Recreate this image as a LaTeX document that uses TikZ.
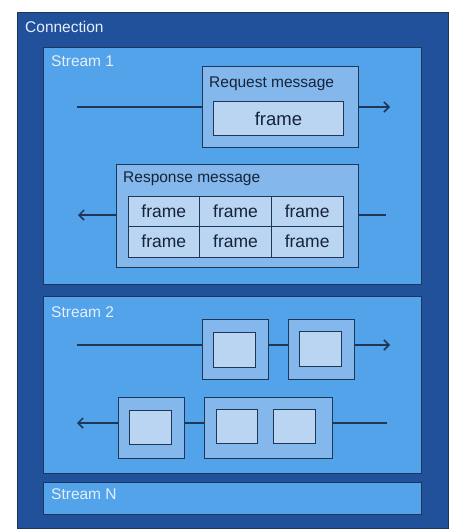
\documentclass[tikz,border=0pt]{standalone}
\usepackage{fontspec}
\setmainfont{Liberation Sans}
\usetikzlibrary{arrows.meta}

\definecolor{connblue}{HTML}{22519B}
\definecolor{streamblue}{HTML}{52A3EA}
\definecolor{msgblue}{HTML}{84B8EC}
\definecolor{frameblue}{HTML}{BAD5F2}
\definecolor{edge}{HTML}{1E3658}
\definecolor{lighttext}{HTML}{E4EFFB}
\definecolor{darktext}{HTML}{15233A}

\tikzset{
	box/.style={draw=edge, line width=0.9pt, inner sep=0pt, anchor=north west},
	connbox/.style={box, fill=connblue},
	streambox/.style={box, fill=streamblue},
	msgbox/.style={box, fill=msgblue},
	framebox/.style={box, fill=frameblue},
	title/.style={anchor=base west, inner sep=0pt, text=lighttext, font=\fontsize{15.5}{18}\selectfont},
	msgtitle/.style={title, text=darktext},
	frametext/.style={text=darktext, font=\fontsize{17.5}{20}\selectfont},
	flow/.style={draw=edge, line width=1.5pt},
	flowto/.style={flow, -{Straight Barb[length=5pt, width=10pt, line width=1.5pt]}}
}

\begin{document}
\begin{tikzpicture}[x=1pt, y=-1pt]
	\useasboundingbox (0,0) rectangle (461,530);
	\fill[white] (0,0) rectangle (461,530);

	% connection and streams
	\node[connbox, minimum width=431pt, minimum height=516pt] (conn) at (17,12) {};
	\node[title] (conntitle) at (25,32) {Connection};

	\node[streambox, minimum width=378pt, minimum height=237pt] (s1) at (43,47) {};
	\node[title] (s1title) at (51,66) {Stream 1};

	\node[streambox, minimum width=378pt, minimum height=177pt] (s2) at (43,296) {};
	\node[title] (s2title) at (51,317) {Stream 2};

	\node[streambox, minimum width=378pt, minimum height=32pt] (sn) at (43,482) {};
	\node[title] (sntitle) at (51,499) {Stream N};

	% stream 1: request
	\node[msgbox, minimum width=156pt, minimum height=81pt] (req) at (202,66) {};
	\node[msgtitle] (reqtitle) at (209,87) {Request message};
	\node[framebox, minimum width=130pt, minimum height=34pt, font=\fontsize{18.5}{21}\selectfont, text=darktext] (reqframe) at (213,101) {frame};

	\coordinate (reqin) at (77,107);
	\coordinate (reqout) at (390,107);
	\draw[flow] (reqin) -- (reqin -| req.west);
	\draw[flowto] (req.east |- reqin) -- (reqout);

	% stream 1: response
	\node[msgbox, minimum width=242pt, minimum height=103pt] (resp) at (116,164) {};
	\node[msgtitle] (resptitle) at (123,182) {Response message};
	\foreach \r in {0,1} {
		\foreach \c in {0,1,2} {
			\node[framebox, frametext, anchor=center, minimum width=71.67pt, minimum height=30.5pt]
				(cell-\r-\c) at ({128+71.67*\c+35.83}, {196+30.5*\r+15.25}) {frame};
		}
	}

	\coordinate (respin) at (386,215);
	\coordinate (respout) at (78,215);
	\draw[flow] (respin) -- (respin -| resp.east);
	\draw[flowto] (resp.west |- respin) -- (respout);

	% stream 2: outgoing
	\node[msgbox, minimum width=66pt, minimum height=60pt] (outa) at (202,319) {};
	\node[framebox, minimum width=42pt, minimum height=35pt] (outafr) at (213,332) {};
	\node[msgbox, minimum width=66pt, minimum height=60pt] (outb) at (288,319) {};
	\node[framebox, minimum width=42pt, minimum height=35pt] (outbfr) at (299,331) {};

	\coordinate (outin) at (77,345);
	\coordinate (outend) at (390,345);
	\draw[flow] (outin) -- (outin -| outa.west);
	\draw[flow] (outa.east |- outin) -- (outb.west |- outin);
	\draw[flowto] (outb.east |- outin) -- (outend);

	% stream 2: incoming
	\node[msgbox, minimum width=66pt, minimum height=61pt] (inc) at (118,397) {};
	\node[framebox, minimum width=42pt, minimum height=34pt] (incfr) at (129,410) {};
	\node[msgbox, minimum width=128pt, minimum height=61pt] (ind) at (204,397) {};
	\node[framebox, minimum width=41pt, minimum height=34pt] (indfra) at (216,409) {};
	\node[framebox, minimum width=42pt, minimum height=34pt] (indfrb) at (273,409) {};

	\coordinate (inin) at (387,423);
	\coordinate (inend) at (77,423);
	\draw[flow] (inin) -- (inin -| ind.east);
	\draw[flow] (ind.west |- inin) -- (inc.east |- inin);
	\draw[flowto] (inc.west |- inin) -- (inend);

\end{tikzpicture}
\end{document}
